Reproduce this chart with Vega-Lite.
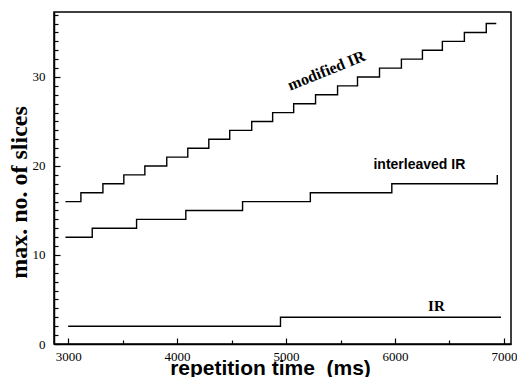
{
  "$schema": "https://vega.github.io/schema/vega-lite/v6.json",
  "width": 457,
  "height": 332,
  "autosize": {"type": "none"},
  "padding": {"left": 54, "top": 12, "right": 6, "bottom": 33},
  "background": "white",
  "config": {
    "view": {"stroke": "black", "strokeWidth": 1.5},
    "axis": {"domainColor": "black", "domainWidth": 1.5, "tickColor": "black", "tickWidth": 1.2, "labelColor": "black", "titleColor": "black", "grid": false, "labelFont": "Liberation Serif", "labelFontSize": 13, "labelOverlap": false, "labelFlush": false}
  },
  "datasets": {
    "series": [
      {"series": "modified IR", "time": 2975, "slices": 16},
      {"series": "modified IR", "time": 3117, "slices": 17},
      {"series": "modified IR", "time": 3319, "slices": 18},
      {"series": "modified IR", "time": 3511, "slices": 19},
      {"series": "modified IR", "time": 3704, "slices": 20},
      {"series": "modified IR", "time": 3905, "slices": 21},
      {"series": "modified IR", "time": 4098, "slices": 22},
      {"series": "modified IR", "time": 4291, "slices": 23},
      {"series": "modified IR", "time": 4483, "slices": 24},
      {"series": "modified IR", "time": 4685, "slices": 25},
      {"series": "modified IR", "time": 4877, "slices": 26},
      {"series": "modified IR", "time": 5070, "slices": 27},
      {"series": "modified IR", "time": 5271, "slices": 28},
      {"series": "modified IR", "time": 5473, "slices": 29},
      {"series": "modified IR", "time": 5656, "slices": 30},
      {"series": "modified IR", "time": 5858, "slices": 31},
      {"series": "modified IR", "time": 6059, "slices": 32},
      {"series": "modified IR", "time": 6252, "slices": 33},
      {"series": "modified IR", "time": 6435, "slices": 34},
      {"series": "modified IR", "time": 6637, "slices": 35},
      {"series": "modified IR", "time": 6838, "slices": 36},
      {"series": "modified IR", "time": 6930, "slices": 36},
      {"series": "interleaved IR", "time": 2975, "slices": 12},
      {"series": "interleaved IR", "time": 3221, "slices": 13},
      {"series": "interleaved IR", "time": 3628, "slices": 14},
      {"series": "interleaved IR", "time": 4080, "slices": 15},
      {"series": "interleaved IR", "time": 4601, "slices": 16},
      {"series": "interleaved IR", "time": 5223, "slices": 17},
      {"series": "interleaved IR", "time": 5971, "slices": 18},
      {"series": "interleaved IR", "time": 6939, "slices": 19},
      {"series": "IR", "time": 3000, "slices": 2},
      {"series": "IR", "time": 4949, "slices": 3},
      {"series": "IR", "time": 6973, "slices": 3}
    ],
    "lab1": [{"time": 5372, "slices": 30.7, "label": "modified IR"}],
    "lab2": [{"time": 6224, "slices": 20.1, "label": "interleaved IR"}],
    "lab3": [{"time": 6380, "slices": 4.3, "label": "IR"}]
  },
  "layer": [
    {
      "data": {"name": "series"},
      "mark": {"type": "line", "interpolate": "step-after", "color": "black", "strokeWidth": 1.4},
      "encoding": {
        "x": {
          "field": "time", "type": "quantitative",
          "scale": {"domain": [2870, 7065], "nice": false, "zero": false},
          "axis": {
            "values": [3000, 3500, 4000, 4500, 5000, 5500, 6000, 6500, 7000],
            "tickCount": 100,
            "format": "d",
            "labelExpr": "datum.value % 1000 === 0 ? datum.label : ''",
            "labelOverlap": false,
            "tickSize": {"condition": {"test": "datum.value % 1000 === 0", "value": -6}, "value": -4},
            "labelPadding": 12,
            "title": "repetition time\u00a0 (ms)",
            "titleFont": "Liberation Sans", "titleFontSize": 21, "titleFontWeight": "bold",
            "titleX": 216, "titleY": 30, "titleBaseline": "alphabetic", "titleAlign": "center"
          }
        },
        "y": {
          "field": "slices", "type": "quantitative",
          "scale": {"domain": [0, 37.3], "nice": false},
          "axis": {
            "values": [0,1,2,3,4,5,6,7,8,9,10,11,12,13,14,15,16,17,18,19,20,21,22,23,24,25,26,27,28,29,30,31,32,33,34,35,36,37],
            "tickCount": 100,
            "format": "d",
            "labelExpr": "datum.value % 10 === 0 ? datum.label : ''",
            "labelOverlap": false,
            "tickSize": {"condition": {"test": "datum.value % 10 === 0", "value": -6}, "value": -4},
            "labelPadding": 15,
            "title": "max. no. of slices",
            "titleFont": "Liberation Serif", "titleFontSize": 24, "titleFontWeight": "bold",
            "titleAngle": 270, "titleX": -28, "titleY": 180, "titleBaseline": "alphabetic", "titleAlign": "center"
          }
        },
        "detail": {"field": "series", "type": "nominal"}
      }
    },
    {
      "data": {"name": "lab1"},
      "mark": {"type": "text", "angle": -22, "font": "Liberation Serif", "fontSize": 16, "fontWeight": "bold", "align": "center", "baseline": "middle", "color": "black"},
      "encoding": {
        "x": {"field": "time", "type": "quantitative"},
        "y": {"field": "slices", "type": "quantitative"},
        "text": {"field": "label"}
      }
    },
    {
      "data": {"name": "lab2"},
      "mark": {"type": "text", "font": "Liberation Sans", "fontSize": 14, "fontWeight": "bold", "align": "center", "baseline": "middle", "color": "black"},
      "encoding": {
        "x": {"field": "time", "type": "quantitative"},
        "y": {"field": "slices", "type": "quantitative"},
        "text": {"field": "label"}
      }
    },
    {
      "data": {"name": "lab3"},
      "mark": {"type": "text", "font": "Liberation Serif", "fontSize": 15, "fontWeight": "bold", "align": "center", "baseline": "middle", "color": "black"},
      "encoding": {
        "x": {"field": "time", "type": "quantitative"},
        "y": {"field": "slices", "type": "quantitative"},
        "text": {"field": "label"}
      }
    }
  ]
}
